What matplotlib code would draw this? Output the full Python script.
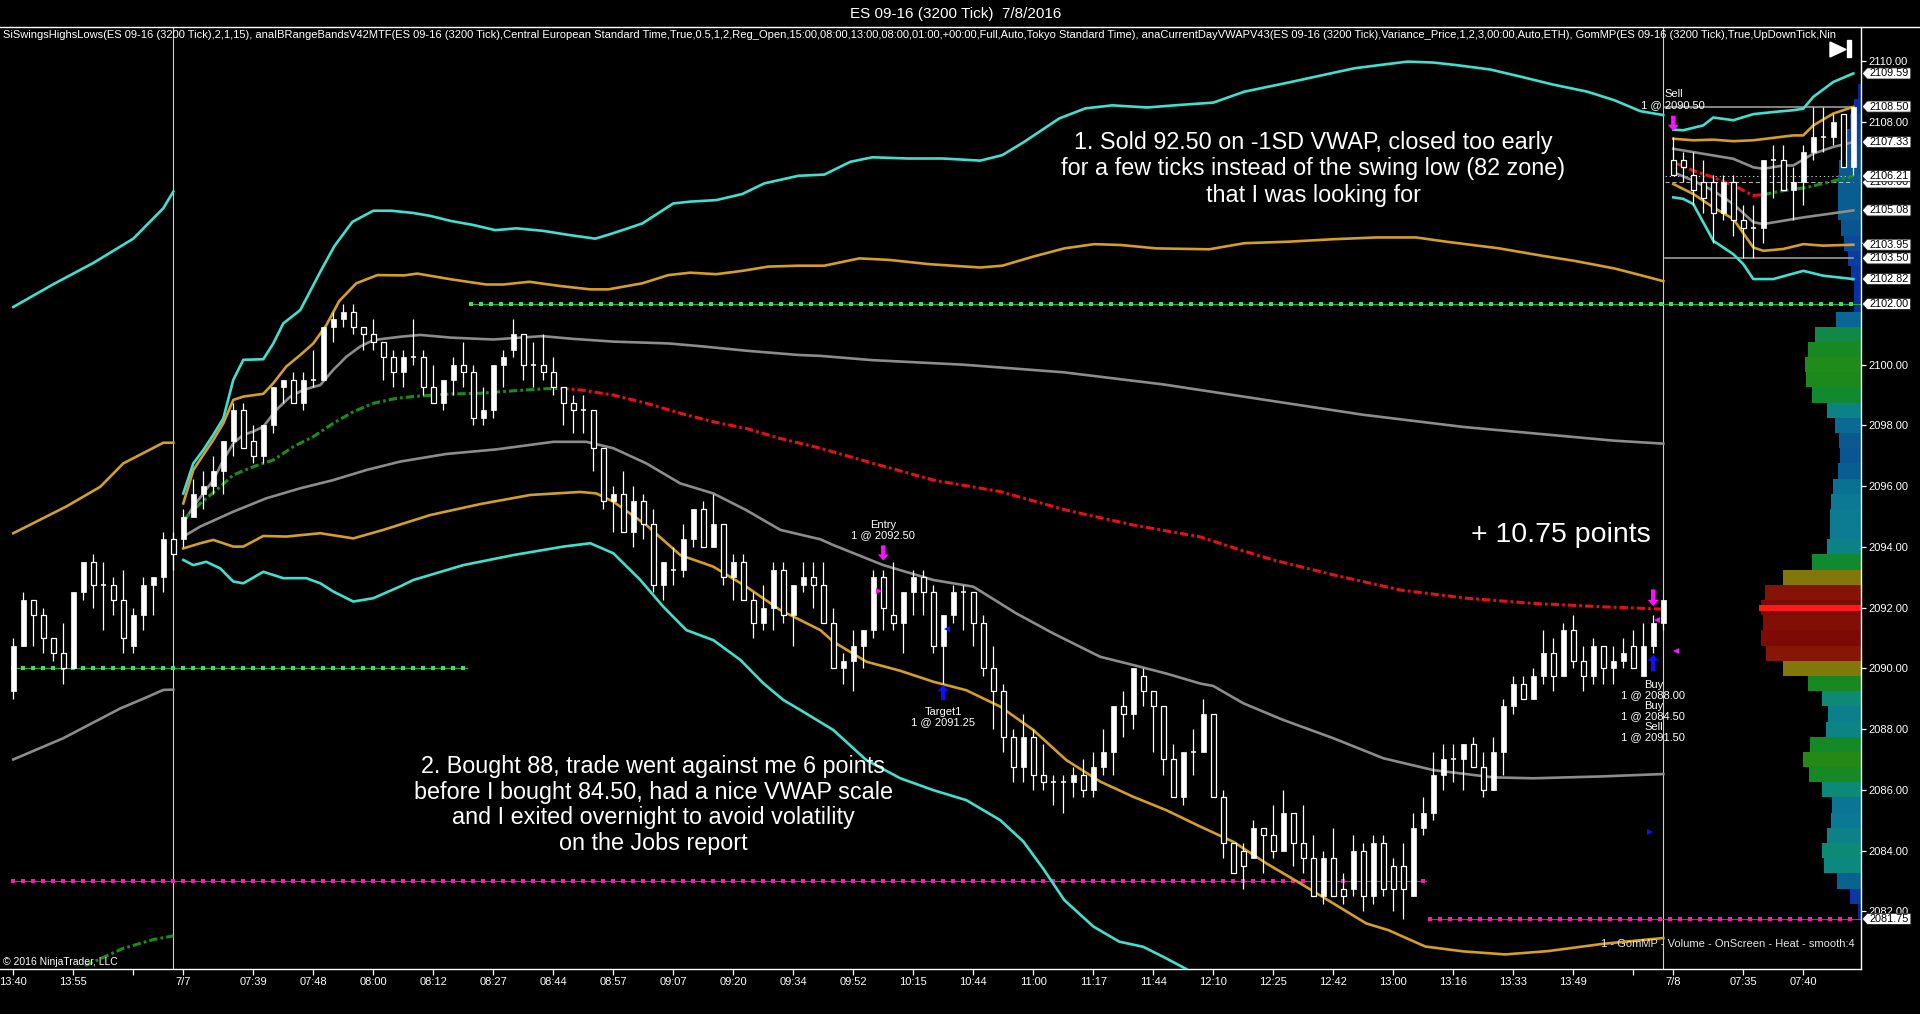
import numpy as np
import matplotlib
matplotlib.use("Agg")
import matplotlib.pyplot as plt
from matplotlib.path import Path
from matplotlib.patches import Rectangle, Polygon
from matplotlib.colors import LinearSegmentedColormap
from matplotlib import font_manager

plt.rcParams['lines.scale_dashes'] = False
installed = {f.name for f in font_manager.fontManager.ttflist}
SANS = 'Liberation Sans' if 'Liberation Sans' in installed else 'DejaVu Sans'
plt.rcParams['font.family'] = [SANS, 'DejaVu Sans']

# ------------------------------------------------
#  Bars (ES 09-16, 3200 tick)
# ------------------------------------------------
opens = [2089.25, 2090.75, 2092.25, 2091.75, 2091.0, 2090.5, 2090.0, 2092.5, 2093.5, 2092.75,
         2092.75, 2092.25, 2090.75, 2091.75, 2092.75, 2093.0, 2094.25, 2094.25, 2095.0, 2095.75,
         2096.0, 2096.5, 2097.5, 2098.5, 2097.5, 2097.0, 2098.0, 2099.25, 2099.5, 2098.75,
         2099.5, 2099.5, 2101.25, 2101.5, 2101.75, 2101.25, 2101.0, 2100.75, 2100.25, 2099.75,
         2100.25, 2100.25, 2099.25, 2098.75, 2099.5, 2100.0, 2099.75, 2098.25, 2098.5, 2100.0,
         2100.5, 2101.0, 2100.0, 2100.0, 2099.75, 2099.25, 2098.75, 2098.5, 2098.5, 2097.25,
         2095.5, 2095.75, 2094.5, 2095.5, 2094.75, 2092.75, 2093.25, 2093.25, 2094.25, 2095.25,
         2094.0, 2094.75, 2093.0, 2093.5, 2092.25, 2091.5, 2092.0, 2093.25, 2091.75, 2092.75,
         2093.0, 2092.75, 2091.5, 2090.0, 2090.25, 2090.75, 2091.25, 2093.0, 2091.75, 2091.5,
         2092.5, 2093.0, 2092.5, 2090.75, 2091.75, 2092.5, 2092.5, 2091.5, 2090.0, 2089.25,
         2087.75, 2086.75, 2087.75, 2086.5, 2086.25, 2086.25, 2086.25, 2086.5, 2086.0, 2086.75,
         2087.25, 2088.75, 2088.5, 2089.75, 2089.25, 2088.75, 2087.0, 2085.75, 2087.25, 2087.25,
         2088.5, 2085.75, 2084.25, 2084.0, 2083.75, 2084.75, 2084.5, 2084.0, 2085.25, 2084.25,
         2083.75, 2082.5, 2083.75, 2082.75, 2082.75, 2084.0, 2082.5, 2084.25, 2083.5, 2083.5,
         2082.5, 2084.75, 2085.25, 2086.5, 2087.0, 2087.0, 2087.5, 2086.75, 2086.0, 2087.25,
         2088.75, 2089.5, 2089.0, 2089.75, 2090.5, 2089.75, 2091.25, 2090.25, 2089.75, 2090.75,
         2090.0, 2090.25, 2090.75, 2089.75, 2090.75, 2091.5, 2106.75, 2106.75, 2106.25, 2106.0,
         2106.0, 2105.0, 2106.0, 2104.75, 2104.5, 2104.5, 2106.75, 2106.75, 2105.75, 2106.0,
         2107.0, 2107.5, 2107.5, 2108.25, 2106.5]
highs = [2091.0, 2092.5, 2092.25, 2092.0, 2091.0, 2091.5, 2092.5, 2093.5, 2093.75, 2093.5,
         2093.0, 2093.25, 2092.0, 2093.0, 2093.0, 2094.5, 2094.5, 2095.25, 2096.25, 2096.5,
         2097.0, 2097.5, 2098.75, 2098.75, 2098.0, 2098.0, 2099.25, 2099.5, 2099.75, 2099.75,
         2100.5, 2101.25, 2101.75, 2102.0, 2102.0, 2101.25, 2101.5, 2100.75, 2100.5, 2100.5,
         2101.5, 2100.5, 2100.0, 2099.5, 2100.25, 2100.75, 2100.0, 2099.25, 2100.0, 2100.5,
         2101.5, 2101.0, 2100.75, 2101.0, 2100.25, 2099.25, 2099.0, 2099.0, 2098.5, 2097.25,
         2096.0, 2096.5, 2096.0, 2095.75, 2095.25, 2093.5, 2094.0, 2094.75, 2095.25, 2095.5,
         2095.75, 2094.75, 2093.75, 2093.75, 2092.5, 2092.75, 2093.5, 2093.5, 2092.75, 2093.5,
         2093.5, 2093.5, 2092.0, 2090.5, 2091.25, 2091.25, 2093.25, 2093.25, 2093.5, 2092.5,
         2093.25, 2093.25, 2092.75, 2091.75, 2092.75, 2092.75, 2092.5, 2091.75, 2090.75, 2089.5,
         2088.0, 2088.5, 2088.0, 2087.5, 2086.5, 2086.5, 2086.75, 2087.0, 2087.25, 2088.0,
         2088.75, 2089.25, 2090.0, 2090.0, 2089.25, 2088.75, 2087.5, 2087.25, 2088.0, 2089.0,
         2088.5, 2086.0, 2084.25, 2084.25, 2085.0, 2084.75, 2085.5, 2086.0, 2085.25, 2085.5,
         2084.5, 2084.0, 2084.75, 2083.25, 2084.5, 2084.25, 2084.5, 2084.5, 2083.75, 2084.25,
         2085.25, 2085.75, 2087.25, 2087.5, 2087.5, 2087.5, 2087.75, 2087.25, 2087.75, 2089.0,
         2089.75, 2089.75, 2090.0, 2091.25, 2091.0, 2091.5, 2091.75, 2090.75, 2091.0, 2090.75,
         2090.75, 2091.0, 2091.25, 2091.5, 2091.75, 2092.25, 2107.5, 2107.0, 2107.0, 2106.75,
         2106.25, 2106.25, 2106.25, 2105.25, 2105.25, 2106.75, 2107.25, 2107.25, 2106.5, 2107.25,
         2108.5, 2108.5, 2108.25, 2108.25, 2108.5]
lows = [2089.0, 2090.75, 2090.75, 2090.5, 2090.25, 2089.5, 2090.0, 2092.25, 2092.0, 2091.25,
        2091.75, 2090.5, 2090.5, 2091.25, 2091.75, 2092.5, 2093.25, 2094.0, 2095.0, 2095.25,
        2095.75, 2095.75, 2097.0, 2097.25, 2096.75, 2096.75, 2097.75, 2098.75, 2098.75, 2098.5,
        2099.25, 2099.5, 2100.75, 2101.25, 2101.0, 2100.5, 2100.5, 2099.5, 2099.25, 2099.25,
        2100.0, 2099.0, 2098.75, 2098.5, 2099.0, 2099.25, 2098.0, 2098.0, 2098.25, 2099.25,
        2100.25, 2099.5, 2099.25, 2099.5, 2099.0, 2098.0, 2097.75, 2097.75, 2096.5, 2095.25,
        2094.5, 2094.5, 2094.0, 2094.25, 2092.5, 2092.25, 2092.75, 2093.0, 2094.0, 2094.0,
        2094.0, 2092.75, 2092.25, 2092.25, 2091.0, 2091.25, 2091.25, 2091.5, 2090.75, 2092.5,
        2092.0, 2091.5, 2090.0, 2089.5, 2089.25, 2090.0, 2091.0, 2091.25, 2091.25, 2090.5,
        2091.75, 2091.75, 2090.5, 2089.5, 2091.5, 2091.25, 2090.75, 2089.75, 2088.0, 2087.25,
        2086.25, 2086.25, 2086.0, 2086.0, 2085.5, 2085.25, 2085.75, 2085.75, 2085.75, 2086.5,
        2086.5, 2087.75, 2088.0, 2088.75, 2087.25, 2086.5, 2085.75, 2085.5, 2086.5, 2087.25,
        2085.75, 2083.75, 2083.25, 2082.75, 2083.75, 2083.25, 2083.75, 2084.0, 2083.5, 2083.25,
        2082.5, 2082.25, 2082.5, 2082.25, 2082.5, 2082.0, 2082.25, 2082.5, 2082.0, 2081.75,
        2082.5, 2084.5, 2085.0, 2086.0, 2086.25, 2086.0, 2086.75, 2085.75, 2086.0, 2086.5,
        2088.5, 2089.0, 2089.0, 2089.5, 2089.25, 2089.75, 2090.0, 2089.25, 2089.5, 2089.5,
        2089.5, 2090.0, 2090.0, 2089.75, 2090.5, 2091.25, 2106.25, 2106.0, 2105.25, 2105.0,
        2104.0, 2104.75, 2104.25, 2103.5, 2103.5, 2104.0, 2105.5, 2105.75, 2104.75, 2105.25,
        2106.75, 2107.0, 2107.25, 2106.5, 2106.25]
closes = [2090.75, 2092.25, 2091.75, 2091.0, 2090.5, 2090.0, 2092.5, 2093.5, 2092.75, 2092.75,
          2092.25, 2091.0, 2091.75, 2092.75, 2093.0, 2094.25, 2093.75, 2095.0, 2095.75, 2096.0,
          2096.5, 2097.5, 2098.5, 2097.25, 2097.0, 2098.0, 2099.25, 2099.5, 2098.75, 2099.5,
          2099.5, 2101.25, 2101.5, 2101.75, 2101.25, 2101.0, 2100.75, 2100.25, 2099.75, 2100.25,
          2100.25, 2099.25, 2098.75, 2099.5, 2100.0, 2099.75, 2098.25, 2098.5, 2100.0, 2100.25,
          2101.0, 2100.0, 2100.0, 2099.75, 2099.25, 2098.75, 2098.5, 2098.5, 2097.25, 2095.5,
          2095.75, 2094.5, 2095.5, 2094.75, 2092.75, 2093.5, 2093.25, 2094.25, 2095.25, 2094.0,
          2094.75, 2093.0, 2093.5, 2092.25, 2091.5, 2092.0, 2093.25, 2091.75, 2092.75, 2093.0,
          2092.75, 2091.5, 2090.0, 2090.25, 2090.75, 2091.25, 2093.0, 2092.0, 2091.5, 2092.5,
          2093.0, 2092.5, 2090.75, 2091.75, 2092.5, 2092.5, 2091.5, 2090.0, 2089.25, 2087.75,
          2086.75, 2087.75, 2086.5, 2086.25, 2086.25, 2086.25, 2086.5, 2086.0, 2086.75, 2087.25,
          2088.75, 2088.5, 2090.0, 2089.25, 2088.75, 2087.0, 2085.75, 2087.25, 2087.25, 2088.5,
          2085.75, 2084.25, 2083.25, 2083.5, 2084.75, 2084.5, 2084.0, 2085.25, 2084.25, 2083.75,
          2082.5, 2083.75, 2082.5, 2082.5, 2084.0, 2082.5, 2084.25, 2082.75, 2082.75, 2082.75,
          2084.75, 2085.25, 2086.5, 2087.0, 2087.0, 2087.5, 2086.75, 2086.0, 2087.25, 2088.75,
          2089.5, 2089.0, 2089.75, 2090.5, 2089.75, 2091.25, 2090.25, 2089.75, 2090.75, 2090.0,
          2090.25, 2090.5, 2090.0, 2090.75, 2091.5, 2092.25, 2106.25, 2106.5, 2105.75, 2105.5,
          2105.0, 2106.0, 2104.75, 2104.5, 2104.5, 2106.75, 2106.75, 2105.75, 2106.0, 2107.0,
          2107.5, 2107.5, 2108.0, 2106.5, 2108.5]

# session separators (bar index) and x-axis labels
session_breaks = [16, 165]
tick_bars = [0, 6, 12, 17] + list(range(24, 157, 6)) + [162, 166, 173, 179]
tick_labels = ['13:40', '13:55', '', '7/7',
               '07:39', '07:48', '08:00', '08:12', '08:27', '08:44', '08:57', '09:07',
               '09:20', '09:34', '09:52', '10:15', '10:44', '11:00', '11:17', '11:44',
               '12:10', '12:25', '12:42', '13:00', '13:16', '13:33', '13:49',
               '', '7/8', '07:35', '07:40']

# ------------------------------------------------
#  IB range bands / VWAP  (bar position, price)
# ------------------------------------------------
# 7/6 session (tail)
cyan_up_a_x = [0, 4, 8, 12, 15, 16]
cyan_up_a_y = [2101.9, 2102.65, 2103.35, 2104.15, 2105.15, 2105.7]
gold_up_a_x = [0, 5.3, 8.7, 11, 13.3, 15, 16]
gold_up_a_y = [2094.45, 2095.33, 2095.98, 2096.75, 2097.14, 2097.43, 2097.43]
gray_lo_a_x = [0, 5, 10.7, 13, 15, 16]
gray_lo_a_y = [2087.0, 2087.7, 2088.68, 2089.0, 2089.29, 2089.3]
vwap_a_x = [7.2, 10.9, 14, 16]
vwap_a_y = [2080.21, 2080.77, 2081.07, 2081.19]

# 7/7 session
cyan_up_b_x = [17, 18, 19, 20, 21, 22, 23, 25, 26, 27, 28.7, 30.8, 32.1, 33.9, 36, 37.8, 39.9, 41.7,
               43.8, 46, 48.2, 50.3, 52.9, 55.6, 58.2, 59.9, 62.9, 66, 67.7, 70.3, 72.9, 75.1, 78.5,
               81.1, 83.7, 85.9, 89.4, 92.9, 96.7, 98.9, 101.1, 104.6, 107.2, 109.9, 113.4, 116.5,
               120, 123.1, 127.5, 131, 134.1, 137.2, 139.4, 142, 144.2, 147.7, 150.8, 153.9, 157.4,
               160.1, 162.7, 165]
cyan_up_b_y = [2095.76, 2096.75, 2097.19, 2097.69, 2098.23, 2099.5, 2100.16, 2100.18, 2100.7,
               2101.36, 2101.8, 2103.12, 2103.9, 2104.7, 2105.07, 2105.07, 2105.0, 2104.9, 2104.73,
               2104.6, 2104.43, 2104.49, 2104.41, 2104.27, 2104.15, 2104.32, 2104.65, 2105.31,
               2105.37, 2105.42, 2105.62, 2105.97, 2106.22, 2106.26, 2106.68, 2106.83, 2106.79,
               2106.79, 2106.72, 2106.9, 2107.34, 2108.11, 2108.44, 2108.54, 2108.47, 2108.55,
               2108.63, 2108.99, 2109.29, 2109.54, 2109.76, 2109.89, 2109.98, 2109.95, 2109.87,
               2109.72, 2109.48, 2109.23, 2108.99, 2108.71, 2108.35, 2108.22]
gold_up_b_x = [17, 18, 19, 20, 21, 22, 23, 25, 26, 27.3, 28.7, 30, 31.3, 32.6, 34.3, 36.4, 39.1,
               40.4, 43.8, 47.3, 49, 51.6, 54.7, 57.7, 59.5, 62.9, 65.5, 67.7, 70.3, 72.9, 75.5,
               78.5, 81.1, 84.6, 87.6, 91.6, 96.7, 98.9, 102, 105.1, 108.1, 110.8, 114.3, 119.6,
               123.1, 127.5, 131.9, 136.3, 140.3, 143.3, 148.6, 153, 156.1, 160.1, 162.7, 165]
gold_up_b_y = [2095.43, 2096.53, 2097.03, 2097.52, 2098.07, 2098.84, 2098.95, 2099.04, 2099.39,
               2099.94, 2100.32, 2100.7, 2101.3, 2102.1, 2102.68, 2102.95, 2102.94, 2103.0,
               2102.81, 2102.64, 2102.64, 2102.73, 2102.59, 2102.48, 2102.48, 2102.68, 2102.95,
               2103.03, 2102.98, 2103.09, 2103.23, 2103.26, 2103.26, 2103.5, 2103.45, 2103.31,
               2103.2, 2103.26, 2103.56, 2103.83, 2103.97, 2103.94, 2103.83, 2103.8, 2104.0,
               2104.05, 2104.13, 2104.19, 2104.19, 2104.05, 2103.83, 2103.58, 2103.42, 2103.17,
               2102.95, 2102.75]
gray_up_b_x = [17, 18, 19, 20, 21, 22, 23, 24, 25, 26.3, 27.7, 29, 30.7, 32, 33.3, 34.7, 36, 38.7,
               40.7, 43.8, 48, 52.9, 56, 60, 65.5, 69, 73.3, 78.5, 80.7, 85.9, 95, 105, 115, 125,
               135, 145, 155, 160, 165]
gray_up_b_y = [2094.78, 2095.33, 2095.76, 2096.2, 2096.86, 2097.41, 2097.69, 2097.8, 2097.96,
               2098.51, 2098.95, 2099.17, 2099.33, 2099.83, 2100.26, 2100.6, 2100.81, 2100.92,
               2100.98, 2100.89, 2100.83, 2100.94, 2100.85, 2100.76, 2100.7, 2100.6, 2100.46,
               2100.32, 2100.29, 2100.15, 2100.0, 2099.75, 2099.35, 2098.85, 2098.35, 2097.95,
               2097.65, 2097.5, 2097.4]
vwap_b_x = [17, 18.7, 20.7, 22, 24, 26, 28, 30, 32, 34, 36, 38.3, 40, 43.3, 46.7, 50, 53.3, 54.7,
            56.7, 60, 63.3, 66.7, 70, 73.3, 76.7, 80.7, 86, 92, 98.7, 105.3, 112, 118.7, 122.7,
            126, 132, 138.7, 145.3, 152, 158.7, 165]
vwap_b_y = [2094.89, 2095.43, 2095.98, 2096.37, 2096.64, 2096.86, 2097.3, 2097.63, 2098.07,
            2098.45, 2098.73, 2098.89, 2098.95, 2099.03, 2099.06, 2099.14, 2099.21, 2099.22,
            2099.17, 2099.0, 2098.73, 2098.4, 2098.12, 2097.9, 2097.57, 2097.25, 2096.75,
            2096.2, 2095.82, 2095.21, 2094.72, 2094.33, 2093.9, 2093.57, 2093.08, 2092.58,
            2092.31, 2092.14, 2092.03, 2091.95]
vwap_b_turn = 17  # index where VWAP turns from green to red
gray_lo_b_x = [17, 18.7, 22, 25.3, 28.7, 32, 35.3, 38.7, 43.3, 48.3, 54, 57.3, 60, 63.3, 66.7, 70,
               73.3, 76.7, 80.7, 82, 87, 92, 96, 100.3, 104, 108.7, 112, 115.3, 118.7, 120, 123,
               127, 132, 137, 142, 148, 152, 158.7, 165]
gray_lo_b_y = [2094.34, 2094.67, 2095.16, 2095.6, 2095.93, 2096.2, 2096.53, 2096.81, 2097.06,
               2097.21, 2097.46, 2097.46, 2097.25, 2096.75, 2096.09, 2095.76, 2095.21, 2094.56,
               2094.25, 2094.06, 2093.4, 2092.91, 2092.69, 2091.81, 2091.15, 2090.38, 2090.11,
               2089.83, 2089.5, 2089.42, 2088.85, 2088.3, 2087.7, 2087.04, 2086.65, 2086.41,
               2086.38, 2086.44, 2086.52]
gold_lo_b_x = [17, 18.7, 20, 22, 23, 25, 27.3, 30.7, 34, 37, 41.7, 46.7, 51.7, 56.7, 58.3, 60,
               63.3, 66.7, 70, 73.3, 76.7, 80.7, 82, 85.3, 88.7, 92, 95.3, 98.7, 102, 105.3, 108.7,
               112, 115.3, 118.7, 122, 125.3, 128.7, 132, 135.3, 137.5, 141.2, 145, 149.2, 153.5,
               159, 165]
gold_lo_b_y = [2093.95, 2094.12, 2094.23, 2094.01, 2094.01, 2094.36, 2094.34, 2094.45, 2094.28,
               2094.56, 2095.05, 2095.41, 2095.71, 2095.81, 2095.76, 2095.49, 2094.72, 2093.73,
               2093.35, 2092.69, 2091.92, 2091.26, 2090.88, 2090.22, 2089.92, 2089.56, 2089.28,
               2088.74, 2087.97, 2086.98, 2086.27, 2085.77, 2085.33, 2084.79, 2084.29, 2083.58,
               2082.92, 2082.26, 2081.6, 2081.38, 2080.84, 2080.68, 2080.58, 2080.69, 2080.93,
               2081.12]
cyan_lo_b_x = [17, 18, 19.3, 20.7, 22, 23, 25, 27, 29.3, 30.7, 32, 34, 36, 38.7, 40, 45, 50, 55,
               57.7, 60, 62.7, 65, 67.3, 70, 72.7, 75, 77, 78.7, 82, 85.3, 88.7, 92, 95.3, 98.7,
               101, 103, 105.1, 108, 110.6, 113, 115, 117.3, 119]
cyan_lo_b_y = [2093.57, 2093.4, 2093.51, 2093.29, 2092.86, 2092.8, 2093.18, 2092.97, 2092.97,
               2092.8, 2092.53, 2092.2, 2092.31, 2092.7, 2092.91, 2093.4, 2093.73, 2094.01,
               2094.12, 2093.79, 2092.91, 2092.03, 2091.26, 2090.93, 2090.28, 2089.51, 2088.96,
               2088.63, 2087.97, 2086.98, 2086.38, 2085.99, 2085.66, 2085.0, 2084.3, 2083.4,
               2082.37, 2081.5, 2081.0, 2080.83, 2080.5, 2080.1, 2079.6]

# 7/8 session
cyan_up_c_x = [166, 167, 169, 170, 172, 174, 176, 178, 179, 180, 182, 184]
cyan_up_c_y = [2107.74, 2107.72, 2107.88, 2108.14, 2108.05, 2108.25, 2108.32, 2108.38, 2108.43,
               2108.82, 2109.31, 2109.59]
gold_up_c_x = [166, 168, 170, 172, 174, 176, 178, 179, 180, 182, 184]
gold_up_c_y = [2107.44, 2107.39, 2107.41, 2107.36, 2107.39, 2107.47, 2107.55, 2107.55, 2107.88,
               2108.27, 2108.49]
gray_up_c_x = [166, 168, 170, 172, 174, 175, 177, 178, 180, 182, 184]
gray_up_c_y = [2107.11, 2107.0, 2106.89, 2106.78, 2106.5, 2106.45, 2106.56, 2106.56, 2106.95,
               2107.17, 2107.33]
vwap_c_x = [166, 168, 170, 172.4, 174, 175, 177, 179.4, 181.4, 184]
vwap_c_y = [2106.67, 2106.39, 2106.17, 2105.84, 2105.57, 2105.6, 2105.73, 2105.84, 2106.0, 2106.21]
vwap_c_turn = 5
gray_lo_c_x = [166, 168, 170, 172, 174, 175, 177, 179, 181.4, 184]
gray_lo_c_y = [2106.34, 2106.06, 2105.73, 2105.29, 2104.69, 2104.63, 2104.74, 2104.85, 2104.96,
               2105.08]
gold_lo_c_x = [166, 168, 170, 172, 174, 175, 177, 179, 181, 184]
gold_lo_c_y = [2105.95, 2105.62, 2105.18, 2104.8, 2103.86, 2103.75, 2103.81, 2103.97, 2103.92,
               2103.95]
cyan_lo_c_x = [166, 167, 168, 170, 172, 173, 174, 176, 179, 181, 184]
cyan_lo_c_y = [2105.51, 2105.46, 2105.29, 2104.08, 2103.64, 2103.31, 2102.82, 2102.82, 2103.09,
               2102.93, 2102.82]

# swing high / low levels: (price, first bar, last bar)
green_swings = [(2090.00, 0, 45.4), (2102.00, 45.8, 184.7)]
pink_swings = [(2083.00, 0, 141.3), (2081.75, 141.7, 184.7)]
gray_levels_78 = [2108.50, 2103.50]
vwap_prev_78 = [2106.21, 2106.00]

# GomMP volume profile (price level, relative volume)
profile_prices = [2082.0, 2082.5, 2083.0, 2083.5, 2084.0, 2084.5, 2085.0, 2085.5, 2086.0, 2086.5,
                  2087.0, 2087.5, 2088.0, 2088.5, 2089.0, 2089.5, 2090.0, 2090.5, 2091.0, 2091.5,
                  2092.0, 2092.5, 2093.0, 2093.5, 2094.0, 2094.5, 2095.0, 2095.5, 2096.0, 2096.5,
                  2097.0, 2097.5, 2098.0, 2098.5, 2099.0, 2099.5, 2100.0, 2100.5, 2101.0, 2101.5,
                  2102.0, 2102.5, 2103.0, 2103.5, 2104.0, 2104.5, 2105.0, 2105.5, 2106.0, 2106.5,
                  2107.0, 2107.5, 2108.0, 2108.5, 2109.0]
profile_volume = [3, 11, 24, 37, 39, 34, 30, 29, 39, 52,
                  58, 51, 35, 33, 39, 53, 78, 95, 100, 98,
                  100, 96, 78, 49, 34, 31, 31, 30, 28, 23,
                  21, 22, 26, 34, 49, 55, 56, 53, 46, 25,
                  7, 7, 10, 13, 17, 20, 23, 23, 23, 22,
                  18, 15, 11, 7, 3]
poc_price = 2092.0

# price tags on the right scale
tag_prices = [2109.59, 2108.50, 2107.33, 2106.00, 2106.21, 2105.08, 2103.95, 2103.50, 2102.82,
              2102.00, 2081.75]

# ------------------------------------------------
#  Figure
# ------------------------------------------------
W, H = 1920, 1014
fig = plt.figure(figsize=(W / 100, H / 100), dpi=100, facecolor='black')
ax = fig.add_axes([0, 45 / H, 1861 / W, 942 / H])
ax.set_facecolor('black')
XMAX = 184.77
ax.set_xlim(-1.33, XMAX)
ax.set_ylim(2080.10, 2111.12)

CYAN, GOLD, GRAY = '#40e0d0', '#d49f22', '#8c8c8c'
VW_GREEN, VW_RED = '#1b8c1b', '#e81010'
DASHDOT = (0, (6, 2.2, 2, 2.2))

# volume profile (behind everything)
heat = LinearSegmentedColormap.from_list('heat', [
    (0.0, '#0a1ea0'), (0.12, '#0b3aa2'), (0.22, '#0a5a90'), (0.30, '#0b7a94'),
    (0.38, '#0c8a7a'), (0.50, '#11892a'), (0.60, '#2a8a10'), (0.75, '#7d8a0c'),
    (0.85, '#8a4a0a'), (0.93, '#8a1c08'), (1.0, '#7e0a05')])
pv = np.array(profile_volume, dtype=float)
ax.barh(profile_prices, pv * 0.1, left=XMAX - pv * 0.1, height=0.5,
        color=heat(pv / 100.0), linewidth=0, zorder=1)
ax.barh([poc_price], [10.2], left=XMAX - 10.2, height=0.2, color='#ff1a1a', linewidth=0, zorder=1.2)

# session separators
for b in session_breaks:
    ax.axvline(b, color='#cfcfcf', lw=0.8, zorder=2)

# swing levels
for price, x0, x1 in green_swings:
    xs = np.arange(x0, x1, 1.0)
    ax.plot([x0, x1], [price, price], color='#1fa83c', lw=0.8, zorder=2.5)
    ax.plot(xs, [price] * len(xs), ls='none', marker='s', ms=2.3, mew=0, color='#3ae062', zorder=2.6)
for price, x0, x1 in pink_swings:
    xs = np.arange(x0, x1, 1.0)
    ax.plot([x0, x1], [price, price], color='#e0205a', lw=0.8, zorder=2.5)
    ax.plot(xs, [price] * len(xs), ls='none', marker='s', ms=2.3, mew=0, color='#ff18b8', zorder=2.6)
for price in gray_levels_78:
    ax.plot([165.2, 184], [price, price], color='#9a9a9a', lw=1.2, zorder=2.5)
ax.plot([165.2, 184], [vwap_prev_78[0]] * 2, color='#b8c8d8', lw=0.7, ls=(0, (1, 2)), zorder=2.5)
ax.plot([165.2, 184], [vwap_prev_78[1]] * 2, color='#b8b8b8', lw=0.7, ls=(0, (3, 2)), zorder=2.5)

# bands
bands = [
    (cyan_up_a_x, cyan_up_a_y, CYAN), (gold_up_a_x, gold_up_a_y, GOLD), (gray_lo_a_x, gray_lo_a_y, GRAY),
    (cyan_up_b_x, cyan_up_b_y, CYAN), (gold_up_b_x, gold_up_b_y, GOLD), (gray_up_b_x, gray_up_b_y, GRAY),
    (gray_lo_b_x, gray_lo_b_y, GRAY), (gold_lo_b_x, gold_lo_b_y, GOLD), (cyan_lo_b_x, cyan_lo_b_y, CYAN),
    (cyan_up_c_x, cyan_up_c_y, CYAN), (gold_up_c_x, gold_up_c_y, GOLD), (gray_up_c_x, gray_up_c_y, GRAY),
    (gray_lo_c_x, gray_lo_c_y, GRAY), (gold_lo_c_x, gold_lo_c_y, GOLD), (cyan_lo_c_x, cyan_lo_c_y, CYAN),
]
for bx, by, col in bands:
    ax.plot(bx, by, color=col, lw=1.9, solid_joinstyle='round', zorder=3)

# VWAP (dash-dot, green above / red below)
ax.plot(vwap_a_x, vwap_a_y, color=VW_GREEN, lw=2.2, ls=DASHDOT, zorder=3.2)
t = vwap_b_turn
ax.plot(vwap_b_x[:t + 1], vwap_b_y[:t + 1], color=VW_GREEN, lw=2.2, ls=DASHDOT, zorder=3.2)
ax.plot(vwap_b_x[t:], vwap_b_y[t:], color=VW_RED, lw=2.2, ls=DASHDOT, zorder=3.2)
t = vwap_c_turn
ax.plot(vwap_c_x[:t + 1], vwap_c_y[:t + 1], color=VW_RED, lw=2.2, ls=DASHDOT, zorder=3.2)
ax.plot(vwap_c_x[t:], vwap_c_y[t:], color=VW_GREEN, lw=2.2, ls=DASHDOT, zorder=3.2)

# candles
o, h, l, c = map(np.array, (opens, highs, lows, closes))
xb = np.arange(len(o))
ax.vlines(xb, l, h, color='white', lw=0.9, zorder=4)
up, dn, dj = c > o, c < o, c == o
ax.bar(xb[up], (c - o)[up], bottom=o[up], width=0.5, color='white', edgecolor='white', lw=0.5, zorder=5)
ax.bar(xb[dn], (o - c)[dn], bottom=c[dn], width=0.5, color='black', edgecolor='white', lw=0.9, zorder=5)
ax.hlines(o[dj], xb[dj] - 0.27, xb[dj] + 0.27, color='white', lw=1.1, zorder=5)


# trade markers
def trade_arrow(bx, y_from, y_to, color):
    ax.annotate('', xy=(bx, y_to), xytext=(bx, y_from),
                arrowprops=dict(arrowstyle='simple,head_length=0.55,head_width=1.0,tail_width=0.4',
                                color=color, lw=0, shrinkA=0, shrinkB=0, mutation_scale=8),
                zorder=7)


trade_arrow(87, 2094.05, 2093.55, '#ff10ff')
ax.plot(86.6, 2092.55, marker='>', ms=4.5, color='#ff10ff', mew=0, zorder=7)
trade_arrow(93, 2088.95, 2089.45, '#1010ff')
ax.plot(93.4, 2091.3, marker='<', ms=4.5, color='#1010ff', mew=0, zorder=7)
trade_arrow(164, 2092.6, 2092.05, '#ff10ff')
ax.plot(164.4, 2091.6, marker='<', ms=4.5, color='#ff10ff', mew=0, zorder=7)
trade_arrow(164, 2089.9, 2090.45, '#1010ff')
ax.plot(163.7, 2084.6, marker='>', ms=4.5, color='#1010ff', mew=0, zorder=7)
ax.plot(166.3, 2090.57, marker='<', ms=4.5, color='#ff10ff', mew=0, zorder=7)
trade_arrow(166, 2108.2, 2107.7, '#ff10ff')

small = dict(color='white', fontsize=8, ha='center', va='center', linespacing=1.05, zorder=8)
ax.text(87, 2094.56, 'Entry\n1 @ 2092.50', **small)
ax.text(93, 2088.4, 'Target1\n1 @ 2091.25', **small)
ax.text(164, 2088.59, 'Buy\n1 @ 2088.00\nBuy\n1 @ 2084.50\nSell\n1 @ 2091.50', **small)
ax.text(166, 2108.73, 'Sell\n1 @ 2090.50', **small)

big = dict(color='white', fontsize=16.8, ha='center', va='center', zorder=8)
ax.text(130, 2106.45, '1. Sold 92.50 on -1SD VWAP, closed too early\n'
        'for a few ticks instead of the swing low (82 zone)\nthat I was looking for',
        linespacing=1.2, **big)
ax.text(64, 2085.5, '2. Bought 88, trade went against me 6 points\n'
        'before I bought 84.50, had a nice VWAP scale\n'
        'and I exited overnight to avoid volatility\non the Jobs report',
        linespacing=1.14, **big)
ax.text(154.8, 2094.39, '+ 10.75 points', color='white', fontsize=20.5, ha='center', va='center', zorder=8)

# axes styling
for side in ('left', 'top'):
    ax.spines[side].set_visible(False)
for side in ('right', 'bottom'):
    ax.spines[side].set_color('white')
    ax.spines[side].set_linewidth(1)
ax.set_xticks(tick_bars)
ax.set_xticklabels(tick_labels)
ax.tick_params(axis='x', colors='white', labelsize=8, length=4.5, width=0.9, pad=1.5)
ax.yaxis.tick_right()
ax.set_yticks(np.arange(2082, 2111, 2))
ax.set_yticklabels([f'{v:.2f}' for v in np.arange(2082, 2111, 2)])
ax.tick_params(axis='y', colors='white', labelsize=8, length=3.5, width=0.9, pad=1.5)


def tag_shape(x0, y0, width, height, mutation_size):
    p = 0.2 * mutation_size
    x0, w = x0 - p, width + 2 * p
    y0, hh = y0 - 0.05 * mutation_size, height + 0.1 * mutation_size
    tip = 0.45 * hh
    return Path([(x0 - tip, y0 + hh / 2), (x0, y0), (x0 + w, y0), (x0 + w, y0 + hh),
                 (x0, y0 + hh), (x0 - tip, y0 + hh / 2)],
                [Path.MOVETO, Path.LINETO, Path.LINETO, Path.LINETO, Path.LINETO, Path.CLOSEPOLY])


for tp in tag_prices:
    ax.annotate(f'{tp:.2f}', xy=(1, tp), xycoords=ax.get_yaxis_transform(),
                xytext=(6, 0), textcoords='offset points', ha='left', va='center',
                fontsize=7.8, color='black', annotation_clip=False, zorder=9,
                bbox=dict(boxstyle=tag_shape, fc='white', ec='#202020', lw=0.6))

# ------------------------------------------------
#  Window chrome (pixel overlay)
# ------------------------------------------------
ov = fig.add_axes([0, 0, 1, 1])
ov.set_xlim(0, W)
ov.set_ylim(H, 0)
ov.axis('off')
ov.plot([0, W], [27, 27], color='white', lw=1)
ov.text(956, 14, 'ES 09-16 (3200 Tick)  7/8/2016', color='white', fontsize=11, ha='center', va='center')
indicators = ('SiSwingsHighsLows(ES 09-16 (3200 Tick),2,1,15), anaIBRangeBandsV42MTF(ES 09-16 (3200 Tick),'
              'Central European Standard Time,True,0.5,1,2,Reg_Open,15:00,08:00,13:00,08:00,01:00,+00:00,'
              'Full,Auto,Tokyo Standard Time), anaCurrentDayVWAPV43(ES 09-16 (3200 Tick),Variance_Price,'
              '1,2,3,00:00,Auto,ETH), GomMP(ES 09-16 (3200 Tick),True,UpDownTick,NinjaTrader')
it = ov.text(3, 35, indicators, color='white', fontsize=7.98, ha='left', va='center')
it.set_clip_path(Rectangle((0, 27), 1836, 20, transform=ov.transData))
it.set_clip_on(True)
ov.add_patch(Polygon([[1830, 42], [1846, 49.5], [1830, 57]], closed=True, color='white'))
ov.add_patch(Rectangle((1847, 40), 3.5, 17, color='white'))
ov.text(3, 962, '\u00a9 2016 NinjaTrader, LLC', color='white', fontsize=7.5, ha='left', va='center')
ov.text(1855, 944, '1 - GomMP - Volume - OnScreen - Heat - smooth:4', color='#e6e6e6',
        fontsize=8, ha='right', va='center')

fig.savefig('out.png', dpi=100, facecolor='black')
